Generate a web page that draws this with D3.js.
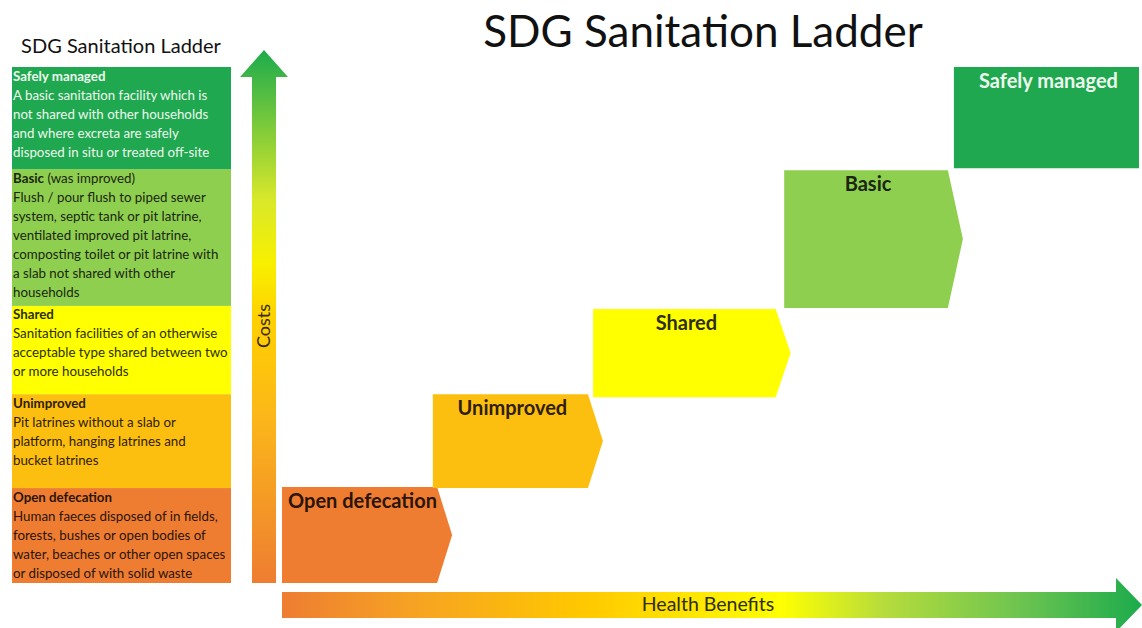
<!DOCTYPE html>
<html>
<head>
<meta charset="utf-8">
<script src="https://cdn.jsdelivr.net/npm/d3@7"></script>
<style>
  body { margin: 0; background: #fff; }
  svg { display: block; font-family: Lato, "Open Sans", sans-serif; }
</style>
</head>
<body>
<svg id="chart" width="1142" height="628"></svg>
<script>
// ladder steps, lowest first
var steps = ["Open defecation", "Unimproved", "Shared", "Basic", "Safely managed"];
// position of each step along the health benefit axis (0-100)
var benefitStart = [0, 17.6, 36.3, 58.6, 78.4];
var benefitEnd = [18.1, 35.7, 57.6, 77.7, 100];
// position of each step along the cost axis (0-100)
var costLow = [0, 18.4, 36.0, 53.3, 80.4];
var costHigh = [18.6, 36.6, 53.1, 80.0, 100];
// band edges of the definitions table on the left
var tableEdges = [0, 18.4, 36.6, 53.7, 80.2, 100];
var headings = ["Open defecation", "Unimproved", "Shared", "Basic", "Safely managed"];
var headingExtra = ["", "", "", " (was improved)", ""];
var definitions = [
  ["Human faeces disposed of in fields,", "forests, bushes or open bodies of", "water, beaches or other open spaces", "or disposed of with solid waste"],
  ["Pit latrines without a slab or", "platform, hanging latrines and", "bucket latrines"],
  ["Sanitation facilities of an otherwise", "acceptable type shared between two", "or more households"],
  ["Flush / pour flush to piped sewer", "system, septic tank or pit latrine,", "ventilated improved pit latrine,", "composting toilet or pit latrine with", "a slab not shared with other", "households"],
  ["A basic sanitation facility which is", "not shared with other households", "and where excreta are safely", "disposed in situ or treated off-site"]
];
var axisLabels = ["Costs", "Health Benefits"];

var fills = ["#ee7d32", "#fdbf0f", "#ffff00", "#8fcf4f", "#1fa84f"];
var inks = ["#2b1408", "#2e2008", "#2e2e08", "#1a2610", "#eef7ee"];

var svg = d3.select("#chart");
var x = d3.scaleLinear().domain([0, 100]).range([282, 1139]);
var y = d3.scaleLinear().domain([0, 100]).range([583, 67]);

// gradients
var defs = svg.append("defs");
var gv = defs.append("linearGradient").attr("id", "gCost")
  .attr("gradientUnits", "userSpaceOnUse")
  .attr("x1", 0).attr("y1", 583).attr("x2", 0).attr("y2", 50);
[[0, "#ee7d32"], [0.3, "#fbb51a"], [0.5, "#ffd200"], [0.6, "#f8f000"], [0.72, "#d8e82a"], [1, "#1cab4c"]]
  .forEach(function(s) { gv.append("stop").attr("offset", s[0]).attr("stop-color", s[1]); });
var gh = defs.append("linearGradient").attr("id", "gBenefit")
  .attr("gradientUnits", "userSpaceOnUse")
  .attr("x1", 282).attr("y1", 0).attr("x2", 1142).attr("y2", 0);
[[0, "#ee7d32"], [0.15, "#f6a223"], [0.35, "#ffc800"], [0.58, "#ffff00"], [0.7, "#b6dc3c"], [0.86, "#6cc450"], [1, "#1cab4c"]]
  .forEach(function(s) { gh.append("stop").attr("offset", s[0]).attr("stop-color", s[1]); });

// titles
svg.append("text").attr("x", 703).attr("y", 36)
  .attr("text-anchor", "middle").attr("dominant-baseline", "middle")
  .attr("font-size", 44).attr("fill", "#111").text("SDG Sanitation Ladder");
svg.append("text").attr("x", 121).attr("y", 48)
  .attr("text-anchor", "middle").attr("dominant-baseline", "middle")
  .attr("font-size", 20).attr("fill", "#111").text("SDG Sanitation Ladder");

// definitions table
var rows = svg.selectAll(".row").data(steps).enter().append("g").attr("class", "row");
rows.append("rect")
  .attr("x", 12).attr("width", 219)
  .attr("y", function(d, i) { return y(tableEdges[i + 1]); })
  .attr("height", function(d, i) { return y(tableEdges[i]) - y(tableEdges[i + 1]); })
  .attr("fill", function(d, i) { return fills[i]; });
rows.each(function(d, i) {
  var top = y(tableEdges[i + 1]);
  var t = d3.select(this).append("text")
    .attr("font-size", 13.3).attr("fill", inks[i]);
  var head = t.append("tspan").attr("x", 13).attr("y", top + 13.5);
  head.append("tspan").attr("font-weight", "bold").text(headings[i]);
  if (headingExtra[i]) head.append("tspan").text(headingExtra[i]);
  definitions[i].forEach(function(line, j) {
    t.append("tspan").attr("x", 13).attr("y", top + 13.5 + 19 * (j + 1)).text(line);
  });
});

// cost arrow (vertical)
svg.append("path")
  .attr("d", "M252,583 L252,77 L240,77 L264,50 L288,77 L276,77 L276,583 Z")
  .attr("fill", "url(#gCost)");
svg.append("text")
  .attr("transform", "translate(265,326) rotate(-90)")
  .attr("text-anchor", "middle").attr("dominant-baseline", "middle")
  .attr("font-size", 18).attr("fill", "#3a2a10").text(axisLabels[0]);

// benefit arrow (horizontal)
svg.append("path")
  .attr("d", "M282,592 L1116,592 L1116,578 L1142,605 L1116,632 L1116,618 L282,618 Z")
  .attr("fill", "url(#gBenefit)");
svg.append("text").attr("x", 708).attr("y", 606)
  .attr("text-anchor", "middle").attr("dominant-baseline", "middle")
  .attr("font-size", 19.5).attr("fill", "#2e2e10").text(axisLabels[1]);

// ladder steps
var point = 15;
var stepG = svg.selectAll(".step").data(steps).enter().append("g").attr("class", "step");
stepG.append("path")
  .attr("d", function(d, i) {
    var x0 = x(benefitStart[i]), x1 = x(benefitEnd[i]);
    var y0 = y(costHigh[i]), y1 = y(costLow[i]);
    var tip = i < steps.length - 1 ? point : 0;
    return "M" + x0 + "," + y0 + " L" + x1 + "," + y0 +
      " L" + (x1 + tip) + "," + ((y0 + y1) / 2) +
      " L" + x1 + "," + y1 + " L" + x0 + "," + y1 + " Z";
  })
  .attr("fill", function(d, i) { return fills[i]; });
stepG.append("text")
  .attr("x", function(d, i) { return (x(benefitStart[i]) + x(benefitEnd[i])) / 2 + (i == 0 ? 3 : 2); })
  .attr("y", function(d, i) { return y(costHigh[i]) + 16; })
  .attr("text-anchor", "middle").attr("dominant-baseline", "middle")
  .attr("font-size", 20).attr("font-weight", "bold")
  .attr("fill", function(d, i) { return inks[i]; })
  .text(function(d) { return d; });
</script>
</body>
</html>
